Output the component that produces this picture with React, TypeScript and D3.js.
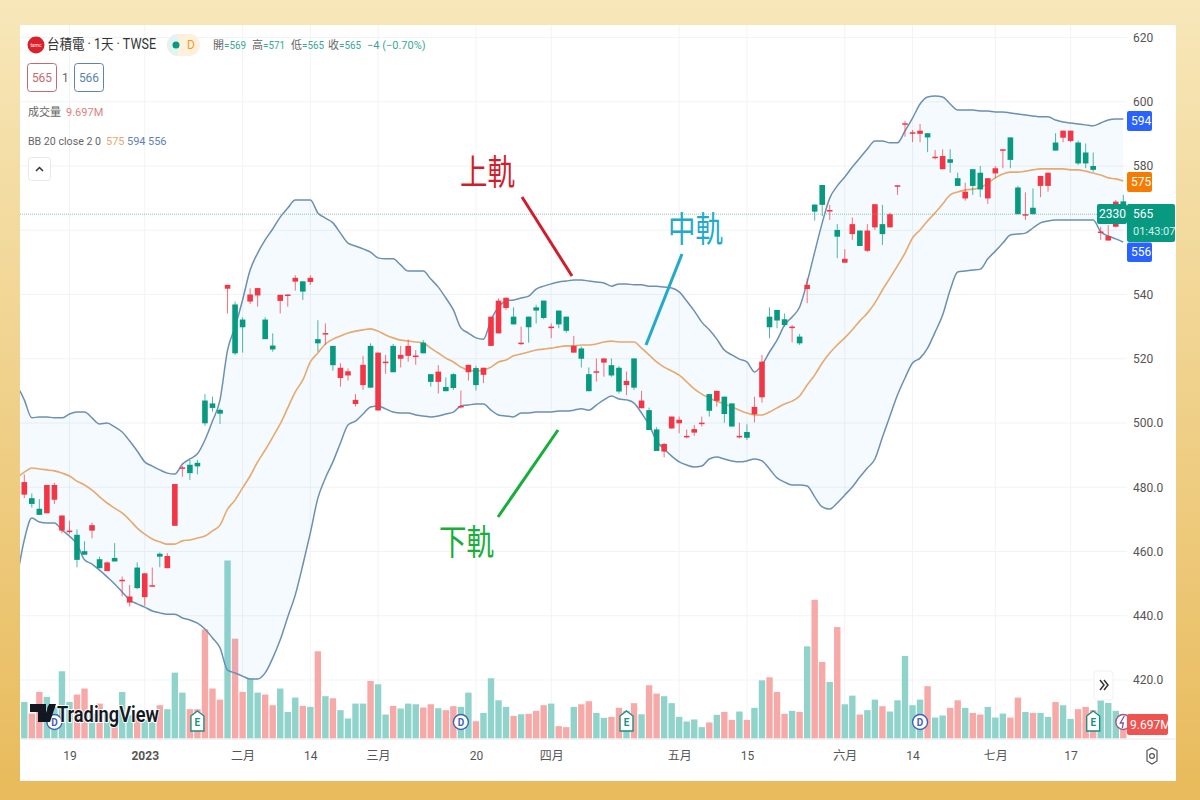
import React, { useEffect, useRef } from 'react';
import * as d3 from 'd3';

// OHLC, one entry per trading day
const opens = [477.7,476.6,473.3,471.9,476.1,466.5,466.5,465.2,460.1,466.5,457.6,453.9,458,451.2,444.1,455,445.8,449.5,459.3,454.8,468,486.2,487,487.6,507,506.1,504.1,541.8,536.9,532.2,537.8,539.7,532.2,524.1,538,540,544,544.1,543.9,526.1,528,524,514,514.8,505.9,511.8,524,503.9,519.1,524,520,520.9,521,525,515.2,512.8,511.2,515.2,505.3,515.8,517.1,515,524,527.9,535.8,533.1,525,533.1,536,538.1,530,535,533.1,521.9,523.2,515.2,516.1,518.8,518,517.2,511.8,520.1,504.6,504,498,491.1,498.3,499.9,496,497,500.1,509,506.9,508.2,506.1,496,497.2,502.7,508,533.1,535.2,532.3,530,526.9,541.7,568,574.1,566.3,560.1,549.9,558.8,559.9,553.6,560.9,561.9,560.9,574,593.3,590.5,590,590.2,582.9,579,582.1,576.2,569.9,579,577.9,569.9,577.7,585.2,588.9,573.3,565,567,573.8,573.8,587.3,588.8,587.8,587.3,584.2,580,559.6,556.8,561.1,569];
const highs = [484,478.1,476.3,480.7,481.4,471.2,469.6,466.9,463.2,469,458.4,456.9,462.6,452.2,449.6,456.6,453.2,455,459.7,459.5,481,486.6,488.5,488.5,509,508.2,504.5,543,537.8,532.9,541.9,542,532.9,527.9,539.9,540,546,544.1,546,532,531,524,518.6,517,509,520.9,524.8,521.9,521.2,524.6,524,526,522.7,525.8,515.2,518,514.2,515.5,510.1,518.1,517.8,517.2,533.1,538.8,539,536,530,533.1,536.8,538.1,531,535,533.1,527.1,523.8,517.3,520.1,520.1,520.1,517.7,516,520.1,510,504.8,498.7,493.7,502,502,498,499.4,502,509,510,508.2,506.1,500.1,499.6,508.2,521.2,536,535.2,534.1,530.5,527.7,545,568,574.1,567.9,561.9,554.1,564,559.9,561.9,568.1,567.9,565.5,574,594.1,591.2,593.1,590.2,585,585.2,585.2,577.9,574.8,579,580,576.2,580,585.2,588.9,573.8,571.8,573,576.9,577.9,590.2,591,591,587.9,587,584.2,561.1,561.6,569.4,571];
const lows = [476.6,473.7,471.4,471.9,474.8,465.7,465.5,455.1,459,464.1,454.8,453.9,456.9,446,442.9,448.3,443.1,449.1,455.1,454.8,468,483.3,482.3,484,499.1,503.5,499.7,534.1,521.2,521.9,537,536.2,526.1,522.2,534.1,536.2,541.2,538.3,543,522.2,524.3,516.3,511.3,513.2,505.1,510.3,511,503.9,515.3,515.8,517.3,519.1,518.1,521.7,511.3,509.2,509.9,510.3,504.6,513.2,510.1,512.4,524,527.9,535.2,530.7,524.3,525,531,532.3,526.4,529.5,528.1,521.9,517.3,509.9,512.9,514.4,514.4,509.2,508.7,510.3,504.6,497.8,491.3,489.3,498.3,496.8,495.2,496,498.9,502,505.1,500.1,498.9,495.2,494.7,500.2,506.3,526.4,529.5,530,525.1,524.3,537.3,563,564.4,563.2,551.3,549.9,557,555.1,553.3,560.1,555.4,560.9,571,589.1,587.4,587.4,584.3,582.1,579,577.9,573.8,569.2,571,570.3,568.2,576.2,579.3,579.3,565,563.2,565,570.3,572,584.8,587.4,587.4,580.3,579.3,578.2,557,556.8,560.9,565];
const closes = [481.6,474.8,471.4,480.7,480.7,471.2,466.5,457.4,459,468.2,454.8,456.6,456.9,451.2,446,448.6,453.2,449.5,458.4,458.6,481,486.2,484.4,486.5,499.9,504.7,502.9,543,521.7,529.8,540,542,526.1,522.9,539.9,540,545.2,540.9,545.2,524.8,528,518,517.2,516.1,507.2,518.1,511,521.9,519.1,515.8,521.2,524,521,521.7,512.8,516,509.9,510.9,505.3,518.1,511.8,517.2,533.1,538.1,539,530.7,525,529.8,535,532.7,530,530.7,528.7,524,520,509.9,516.1,520.1,514.8,509.8,513.1,511,507,497.8,491.3,493.5,502,501,496,498.1,500.1,503.8,510,502.8,498.9,496,495.4,505,519.1,529.8,531.9,530.5,530,524.8,543,565.8,567.9,566.3,558,551.1,561.9,555.1,559.9,568.1,558.8,565,574,593.3,590.5,591,588.9,582.9,583.1,581,573.8,572,573.8,572.7,576.2,579.3,585.2,581.9,565,565,565,576.9,577.9,584.8,591,591,580.8,580.8,578.8,559.6,558.2,568.9,565];

// volume in millions of shares
const volumes = [26.7,18.2,34,30.4,23,49.1,26.7,32.1,36.5,18.2,25.5,18.2,10.9,34,17,17,13.4,12,24.3,21.4,48.1,33.5,21.4,21.4,79.7,36.5,28.4,130,72.9,34,43.7,33.5,32.1,24.3,36.5,19.4,29.9,23.8,23.1,63.7,30.9,29.4,20.7,14.6,25.5,25.5,42,39.6,17.5,23.8,21.9,25.5,25,22.6,25,22.1,20.7,23.6,23.1,33.5,12.6,18.7,44,27.9,23.1,16.5,17.7,18,20.2,24.3,25.5,9,8.3,23.1,25,27.2,18.7,15.1,15.8,22.4,20.2,25.8,17.7,38.9,32.8,30.9,25.8,15.8,12.4,13.9,8.3,11.7,17.3,19.4,13.6,19.7,13.6,22.4,42.5,44.7,34,18,20.2,19.4,67.3,101.3,55.9,41.3,81.4,25,31.3,17.5,20.7,28.4,23.6,19.7,27.9,60.3,24.3,28.4,38.2,15.3,16.8,22.4,27.9,22.4,18.7,17.5,23.1,15.3,18.2,15.3,29.9,19.4,18.7,18.7,15.8,26.7,24.3,14.3,21.4,23.1,20.7,27.9,26,20.2,9.697];

// Bollinger bands start one day before the first visible candle
const bbStart = -1;
const bbUpper = [511.8,507.2,501.6,501.9,501.9,501.6,501.6,502.8,503.4,503.4,501.6,499.7,500,498.8,497.2,494.4,491.3,487.9,486.6,485.4,484.4,484.1,487.2,488.8,490.4,494.7,500.6,507.2,522.7,529.9,538.3,547.6,552.9,557,560.4,564.1,566.9,569.4,569.4,569.4,565.4,563.8,562.3,559.1,556,555.1,554.2,553.2,551.4,551.1,551.1,549.2,547.3,547.3,547.3,544.8,542.3,538.9,535.2,529.6,528,526.5,526.1,532.1,536.1,538,538.3,538.9,539.5,541.7,542.6,543.3,543.9,544.2,544.5,544.5,544.2,543.9,543.6,542.6,543.3,543.3,543,543,542.6,542.6,542.3,542,540.8,538,534.9,531.4,529,526.1,522.7,521.2,519.9,519,515.9,518.1,522.1,525.8,530.5,533,536.1,543.9,553.2,562.3,570,573.8,576.6,579.7,582.5,585.3,587.8,587.8,587.2,587.2,590.9,594.9,599.3,601.5,601.8,601.5,599.3,597.4,597.4,597.4,597.1,597.1,596.8,596.8,596.5,596.2,595.9,595.6,595.3,595.3,594.3,593.7,593.4,593.1,592.8,592.5,593.4,594.3,594.6,594.6];
const bbMiddle = [482.9,484.7,486,485.7,485.4,485.1,484.4,483.5,481.9,480.7,479.1,477,475.1,473.5,472,469.8,467.3,465.4,463.9,463,462.3,462.3,463.3,463.6,464.2,464.8,466.4,468.2,473.2,476,479.8,483.5,487.9,491.6,495.6,499.7,504.7,509.7,513.4,519,521.8,524.6,526.1,527.1,528,528.6,529,529.3,528.6,527.4,526.5,525.8,525.5,525.2,524.9,523.3,521.8,520.2,519,517.4,516.5,516.2,516.5,517.4,519,519.6,520.9,521.5,522.1,522.7,523,523.3,523.7,524,524,524.3,524.3,524.6,525.2,525.5,525.2,525.2,525.2,523.3,521.2,519,517.4,516.2,514.9,512.8,510.6,509,507.8,506.8,505.9,505,504,503.1,502.5,502.5,503.4,504.7,505.9,506.8,508.4,511.8,514.9,518.7,521.8,524.3,526.5,529,531.8,534.2,537.4,541.4,545.1,548.9,552.9,557.6,560.1,562.9,565.4,568.2,571,571.9,572.5,572.8,573.2,574.7,576.3,577.5,578.1,578.1,578.4,578.8,579.1,579.1,579.1,579.1,578.8,578.8,578.4,577.8,577.2,576.3,576,575.3];
const bbLower = [451.1,463.6,470.4,469.2,468.9,468.9,466.7,464.8,462.3,457.4,456.1,454.2,452.1,449.9,447.4,444.9,443.7,442.7,441.5,440.9,440.5,440.5,439.3,438.7,437.7,435.9,433.1,430,423.1,422.2,421.2,420.3,420.3,422.2,426.8,432.5,439.6,446.5,455.8,465.8,476.6,482.9,487.9,493.8,499.4,500.6,502.8,505,505.3,504.4,503.4,503.1,503.1,502.5,502.2,501.9,502.2,502.8,503.4,505.3,505.6,505.9,505.9,504,502.5,502.2,501.9,503.1,503.1,503.4,503.4,503.4,503.7,503.7,504,504.4,504,505.6,507.2,508.4,507.5,507.2,506.2,503.1,499.4,494.4,491.9,489.7,487.9,486.9,486.3,486.6,488.8,489.4,488.8,488.2,487.9,488.2,488.8,488.2,485.7,482.9,481.6,480.7,480.7,480.4,477,473.9,473.2,475.1,477.6,480.1,483.2,486,488.8,495.6,502.2,508.7,514,518.7,520.2,523.3,528.3,533.6,541.4,547,547.3,547.6,547.9,551.1,553.5,556,558.5,558.8,559.1,560.7,562.3,562.9,563.2,563.2,563.2,563.2,563.2,563.2,559.5,558.2,557.3,556.3];

// axis ticks, the 560 label is not shown in the chart since the last price box covers it
const priceTicks = [620, 600, 580, 560, 540, 520, 500, 480, 460, 440, 420];
const priceLabelTicks = [620, 600, 580, 540, 520, 500, 480, 460, 440, 420];
const timeTickIndex = [6, 16, 29, 38, 47, 60, 70, 87, 96, 109, 118, 129, 139];
const timeTickLabels = ['19', '2023', '二月', '14', '三月', '20', '四月', '五月', '15', '六月', '14', '七月', '17'];

// earnings / dividend flags under the candles
const eventIndex = [4, 23, 58, 80, 119, 142];
const eventKind = ['D', 'E', 'D', 'E', 'D', 'E'];

const RED = '#f23645';
const GREEN = '#089981';
const VOL_RED = '#f7a9a7';
const VOL_GREEN = '#90d3cb';
const BAND = '#6c8fb5';
const MID = '#e8a96e';
const LABEL_BLUE = '#2962ff';
const FONT = 'Roboto, "Noto Sans CJK TC", sans-serif';

const App: React.FC = () => {
    const svgRef = useRef<SVGSVGElement>(null);

    useEffect(() => {
        if (!svgRef.current) return;
        const svg = d3.select(svgRef.current);
        svg.selectAll('*').remove();

        const plot = { left: 20, right: 1127, top: 25, bottom: 739 };

        const x = d3.scaleLinear().domain([0, 146]).range([24.3, 1123.3]);
        const y = d3.scaleLinear().domain([420, 620]).range([680, 37.5]);
        const yVol = d3.scaleLinear().domain([0, 130]).range([738.5, 560.5]);

        // frame
        const defs = svg.append('defs');
        const grad = defs.append('linearGradient').attr('id', 'frame').attr('x1', 0).attr('y1', 0).attr('x2', 0).attr('y2', 1);
        grad.append('stop').attr('offset', '0%').attr('stop-color', '#f7e7b9');
        grad.append('stop').attr('offset', '100%').attr('stop-color', '#e8ba5b');
        defs.append('clipPath').attr('id', 'plot').append('rect')
            .attr('x', plot.left).attr('y', plot.top)
            .attr('width', plot.right - plot.left).attr('height', plot.bottom - plot.top);

        svg.append('rect').attr('width', 1200).attr('height', 800).attr('fill', 'url(#frame)');
        svg.append('rect').attr('x', 20).attr('y', 25).attr('width', 1156).attr('height', 756).attr('fill', '#fff');

        // grid
        const grid = svg.append('g').attr('stroke', '#f1f3f6').attr('stroke-width', 1);
        grid.selectAll('line.h').data(priceTicks).join('line').attr('class', 'h')
            .attr('x1', plot.left).attr('x2', plot.right).attr('y1', d => y(d)).attr('y2', d => y(d));
        grid.selectAll('line.v').data(timeTickIndex).join('line').attr('class', 'v')
            .attr('x1', d => x(d)).attr('x2', d => x(d)).attr('y1', plot.top).attr('y2', plot.bottom);

        const chart = svg.append('g').attr('clip-path', 'url(#plot)');

        // volume, colours are the opposite way round from the candles here
        chart.append('g').selectAll('rect').data(volumes).join('rect')
            .attr('x', (_, i) => x(i) - 3.2)
            .attr('width', 6.4)
            .attr('y', d => yVol(d))
            .attr('height', d => yVol(0) - yVol(d))
            .attr('fill', (_, i) => (closes[i] >= opens[i] ? VOL_GREEN : VOL_RED));

        // bollinger band
        const area = d3.area<number>()
            .x((_, i) => x(i + bbStart))
            .y0((_, i) => y(bbLower[i]))
            .y1(d => y(d));
        chart.append('path').attr('d', area(bbUpper)).attr('fill', '#2196f3').attr('fill-opacity', 0.05);

        const line = d3.line<number>().x((_, i) => x(i + bbStart)).y(d => y(d)).curve(d3.curveMonotoneX);
        chart.append('path').attr('d', line(bbUpper)).attr('fill', 'none').attr('stroke', BAND).attr('stroke-width', 1.5);
        chart.append('path').attr('d', line(bbLower)).attr('fill', 'none').attr('stroke', BAND).attr('stroke-width', 1.5);
        chart.append('path').attr('d', line(bbMiddle)).attr('fill', 'none').attr('stroke', MID).attr('stroke-width', 1.6);

        // last price line
        svg.append('line').attr('x1', plot.left).attr('x2', plot.right).attr('y1', y(565)).attr('y2', y(565))
            .attr('stroke', '#6aa7a0').attr('stroke-opacity', 0.7).attr('stroke-dasharray', '1 1');

        // candles
        const candles = chart.append('g').selectAll('g').data(closes).join('g')
            .attr('fill', (d, i) => (d >= opens[i] ? RED : GREEN))
            .attr('stroke', (d, i) => (d >= opens[i] ? RED : GREEN));
        candles.append('line')
            .attr('x1', (_, i) => x(i)).attr('x2', (_, i) => x(i))
            .attr('y1', (_, i) => y(highs[i])).attr('y2', (_, i) => y(lows[i]))
            .attr('stroke-opacity', 0.7);
        candles.append('rect')
            .attr('x', (_, i) => x(i) - 2.8)
            .attr('width', 5.6)
            .attr('y', (d, i) => y(Math.max(d, opens[i])))
            .attr('height', (d, i) => Math.max(1.5, Math.abs(y(d) - y(opens[i]))))
            .attr('stroke', 'none');

        // event flags
        const flags = svg.append('g').selectAll('g').data(eventIndex).join('g')
            .attr('transform', d => `translate(${x(d)},722)`);
        flags.each(function (_, i) {
            const g = d3.select(this);
            const isDiv = eventKind[i] === 'D';
            const colour = isDiv ? '#3f62b5' : '#1f8f82';
            if (isDiv) {
                g.append('circle').attr('r', 7.5).attr('fill', '#fff').attr('stroke', colour).attr('stroke-width', 1.4);
            } else {
                g.append('path').attr('d', 'M0,-11L6.5,-6V9H-6.5V-6Z').attr('fill', '#fff').attr('stroke', colour).attr('stroke-width', 1.4);
            }
            g.append('text').attr('y', 4).attr('text-anchor', 'middle').attr('font-size', 10).attr('font-weight', 700)
                .attr('font-family', FONT).attr('fill', colour).text(eventKind[i]);
        });

        // tradingview logo
        const logo = svg.append('g').attr('fill', '#131722');
        logo.append('path').attr('d', 'M30,704H46V722H38V712H30Z');
        logo.append('circle').attr('cx', 50).attr('cy', 708).attr('r', 2.6);
        logo.append('path').attr('d', 'M49,704H56L50,722H43Z');
        logo.append('text').attr('x', 57).attr('y', 722).attr('font-family', FONT).attr('font-size', 22).attr('font-weight', 600)
            .attr('textLength', 102).attr('lengthAdjust', 'spacingAndGlyphs').attr('stroke', '#fff').attr('stroke-width', 2)
            .attr('paint-order', 'stroke').text('TradingView');

        // price axis
        const axisR = svg.append('g').attr('transform', `translate(${plot.right},0)`)
            .call(d3.axisRight(y).tickValues(priceLabelTicks).tickSize(0).tickPadding(6)
                .tickFormat(d => (+d >= 520 ? `${d}` : d3.format('.1f')(+d))));
        axisR.select('.domain').remove();
        axisR.selectAll('text').attr('font-family', FONT).attr('font-size', 12).attr('fill', '#555');

        // time axis
        svg.append('line').attr('x1', plot.left).attr('x2', 1176).attr('y1', plot.bottom).attr('y2', plot.bottom).attr('stroke', '#e6e8ec');
        const xAxis = d3.axisBottom(x).tickValues(timeTickIndex).tickSize(0).tickPadding(12)
            .tickFormat((_, i) => timeTickLabels[i]);
        const axisB = svg.append('g').attr('transform', `translate(0,${plot.bottom})`).call(xAxis);
        axisB.select('.domain').remove();
        axisB.selectAll('text').attr('font-family', FONT).attr('font-size', 12).attr('fill', '#555')
            .attr('font-weight', d => (d === 16 ? 700 : 400));

        // price labels on the axis
        const tag = (lx: number, ly: number, w: number, h: number, fill: string, label: string, anchorX: number) => {
            svg.append('rect').attr('x', lx).attr('y', ly).attr('width', w).attr('height', h).attr('rx', 2).attr('fill', fill);
            svg.append('text').attr('x', anchorX).attr('y', ly + h / 2 + 4).attr('font-family', FONT).attr('font-size', 12)
                .attr('fill', '#fff').text(label);
        };
        tag(plot.right, y(594) - 10, 25, 20, LABEL_BLUE, '594', plot.right + 4);
        tag(plot.right, y(575) - 10, 25, 20, '#f57c00', '575', plot.right + 4);
        // pushed below the last price box, as the platform does
        tag(plot.right, 242.5, 25, 19.5, LABEL_BLUE, '556', plot.right + 4);
        svg.append('rect').attr('x', plot.right).attr('y', 204).attr('width', 48).attr('height', 38).attr('rx', 2).attr('fill', GREEN);
        svg.append('text').attr('x', plot.right + 6).attr('y', 218).attr('font-family', FONT).attr('font-size', 12).attr('fill', '#fff').text('565');
        svg.append('text').attr('x', plot.right + 6).attr('y', 235).attr('font-family', FONT).attr('font-size', 11).attr('fill', '#d6f0ec').text('01:43:07');
        tag(1097, 204, 30, 20, GREEN, '2330', 1099);

        // lightning flag sits half under the volume label
        svg.append('circle').attr('cx', x(146)).attr('cy', 722).attr('r', 7.5).attr('fill', '#fff').attr('stroke', '#a0548a').attr('stroke-width', 1.4);
        svg.append('path').attr('d', `M${x(146) + 1},716L${x(146) - 3},723H${x(146)}L${x(146) - 1},728`).attr('fill', 'none').attr('stroke', '#7a5aa6').attr('stroke-width', 1.3);
        tag(plot.right, 714, 41, 21, '#ef5350', '9.697M', plot.right + 3);

        // scroll button and settings icon
        svg.append('rect').attr('x', 1094).attr('y', 671).attr('width', 19).attr('height', 29).attr('rx', 3).attr('fill', '#fff').attr('stroke', '#f0f1f3');
        svg.append('path').attr('d', 'M1100,680L1104,685L1100,690M1104,680L1108,685L1104,690').attr('fill', 'none').attr('stroke', '#333').attr('stroke-width', 1.5);
        svg.append('path').attr('d', 'M1147,750.5L1152,748L1157,750.5V761L1152,764L1147,761Z').attr('fill', 'none').attr('stroke', '#555').attr('stroke-width', 1.2);
        svg.append('circle').attr('cx', 1152).attr('cy', 756).attr('r', 2.4).attr('fill', 'none').attr('stroke', '#555').attr('stroke-width', 1.2);

        // legend
        const text = (tx: number, ty: number, s: string, fill: string, size = 11) =>
            svg.append('text').attr('x', tx).attr('y', ty).attr('font-family', FONT).attr('font-size', size).attr('fill', fill).text(s);

        svg.append('circle').attr('cx', 36).attr('cy', 45).attr('r', 8.5).attr('fill', '#d9202b');
        text(36, 47, 'tsmc', '#fff', 5).attr('text-anchor', 'middle');
        text(47, 49, '台積電 · 1天 · TWSE', '#333', 14).attr('textLength', 109).attr('lengthAdjust', 'spacingAndGlyphs');
        svg.append('rect').attr('x', 167).attr('y', 34).attr('width', 33).attr('height', 22).attr('rx', 11).attr('fill', '#fdf0dc');
        svg.append('path').attr('d', 'M178,34V56A11,11,0,0,1,178,34Z').attr('fill', '#e2f3f0');
        svg.append('circle').attr('cx', 176).attr('cy', 45).attr('r', 3.5).attr('fill', GREEN);
        text(187, 49, 'D', '#f59a23', 12);

        const ohlc: [number, string, string][] = [
            [213, '開', '=569'], [252, '高', '=571'], [291, '低', '=565'], [328, '收', '=565'],
        ];
        ohlc.forEach(([tx, k, v]) => {
            text(tx, 49, k, '#666');
            text(tx + 11, 49, v, '#3aa796').attr('textLength', 22).attr('lengthAdjust', 'spacingAndGlyphs');
        });
        text(367, 49, '−4 (−0.70%)', '#3aa796');

        const box = (bx: number, s: string, c: string) => {
            svg.append('rect').attr('x', bx).attr('y', 63.5).attr('width', 29).attr('height', 28).attr('rx', 3).attr('fill', '#fff').attr('stroke', c);
            text(bx + 14.5, 82, s, c, 12).attr('text-anchor', 'middle');
        };
        box(27.5, '565', '#c56a72');
        text(62, 82, '1', '#666', 12);
        box(74.5, '566', '#5d82b6');

        text(28, 116, '成交量', '#666');
        text(66, 116, '9.697M', '#e07f7f');
        text(28, 145, 'BB 20 close 2 0', '#666').attr('textLength', 73).attr('lengthAdjust', 'spacingAndGlyphs');
        text(106, 145, '575', '#e8a96e');
        text(127, 145, '594', '#5d82b6');
        text(148, 145, '556', '#5d82b6');

        svg.append('rect').attr('x', 28.5).attr('y', 157.5).attr('width', 22).attr('height', 23).attr('rx', 3).attr('fill', '#fff').attr('stroke', '#e6e8ec');
        svg.append('path').attr('d', 'M36,171L39.5,167.5L43,171').attr('fill', 'none').attr('stroke', '#333').attr('stroke-width', 1.5);

        // hand drawn annotations on top of the screenshot
        const note = (tx: number, ty: number, s: string, c: string, p: [number, number, number, number]) => {
            svg.append('text').attr('x', tx).attr('y', ty).attr('font-family', '"Noto Sans CJK TC", sans-serif')
                .attr('font-size', 35).attr('fill', c).attr('textLength', 55).attr('lengthAdjust', 'spacingAndGlyphs').text(s);
            svg.append('line').attr('x1', p[0]).attr('y1', p[1]).attr('x2', p[2]).attr('y2', p[3])
                .attr('stroke', c).attr('stroke-width', 3);
        };
        note(460, 185, '上軌', '#cf1f2e', [522, 197, 572, 276]);
        note(668, 242, '中軌', '#22aacb', [682, 254, 646, 345]);
        note(439, 555, '下軌', '#19ad3c', [558, 430, 498, 517]);
    }, []);

    return <svg ref={svgRef} width={1200} height={800} viewBox="0 0 1200 800" style={{ position: 'absolute', left: 0, top: 0 }} />;
};

export default App;
